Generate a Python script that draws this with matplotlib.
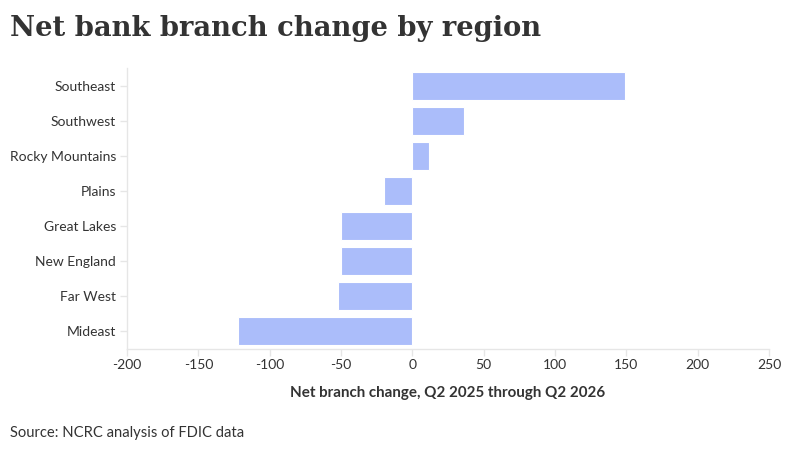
import matplotlib
matplotlib.use("Agg")
import matplotlib.pyplot as plt

regions = ["Southeast", "Southwest", "Rocky Mountains", "Plains",
           "Great Lakes", "New England", "Far West", "Mideast"]
net_change = [149, 36, 12, -20, -50, -50, -52, -122]
x_ticks = [-200, -150, -100, -50, 0, 50, 100, 150, 200, 250]

plt.rcParams['font.family'] = ['Lato', 'DejaVu Sans']
text_color = '#333333'
grid_color = '#e6e6e6'

fig = plt.figure(figsize=(7.95, 4.51), dpi=100)
ax = fig.add_axes([127/795, 1 - 349/451, 642/795, (349 - 68)/451])

ypos = list(range(len(regions)))
ax.barh(ypos, net_change, height=0.8, color='#abbdfa', edgecolor='white', linewidth=0.8)
ax.set_yticks(ypos)
ax.set_yticklabels(regions)
ax.set_ylim(len(regions) - 0.5, -0.5)
ax.set_xlim(-200, 250)
ax.set_xticks(x_ticks)
ax.set_xticklabels([str(v) for v in x_ticks])

for s in ['top', 'right']:
    ax.spines[s].set_visible(False)
for s in ['left', 'bottom']:
    ax.spines[s].set_color(grid_color)
    ax.spines[s].set_linewidth(1)
ax.tick_params(axis='both', colors=grid_color, labelcolor=text_color, labelsize=10, length=5, width=1)
ax.tick_params(axis='y', pad=3)
ax.tick_params(axis='x', pad=2)

ax.set_xlabel("Net branch change, Q2 2025 through Q2 2026", fontsize=10.9,
              fontweight='bold', color=text_color, labelpad=11)

fig.text(10/795, 1 - 28/451, "Net bank branch change by region", fontsize=19.7,
         fontweight='bold', family=['DejaVu Serif'], color=text_color, va='center', ha='left')
fig.text(10/795, 1 - 433/451, "Source: NCRC analysis of FDIC data", fontsize=10.6,
         color=text_color, va='center', ha='left')

fig.savefig("out.png", dpi=100)
